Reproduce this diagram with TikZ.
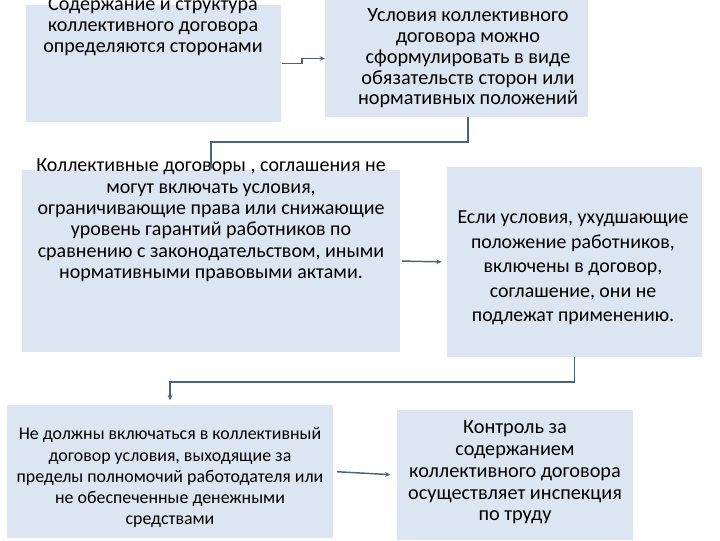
\documentclass[tikz,border=0pt]{standalone}
\usepackage{fontspec}
\setmainfont{Carlito}
\usetikzlibrary{arrows.meta}
\usetikzlibrary{fit}

\definecolor{boxfill}{RGB}{220,230,242}
\definecolor{linkcol}{RGB}{70,100,125}

\begin{document}
\begin{tikzpicture}[x=0.75pt,y=0.75pt,yscale=-1,xscale=1,
  box/.style={fill=boxfill,draw=none,inner sep=0pt,outer sep=0pt},
  txt/.style={align=center,inner sep=0pt},
  link/.style={draw=linkcol,line width=1.1pt,-{Stealth[length=4pt,width=3.5pt]}}]
\useasboundingbox (0,0) rectangle (720,540);
\clip (0,0) rectangle (720,540);

%Shape: Rectangle [id:b1]
\node [box,fit={(26,5) (281,122)}] (b1) {};
%Shape: Rectangle [id:b2]
\node [box,fit={(325,0) (588,117)}] (b2) {};
%Shape: Rectangle [id:b3]
\node [box,fit={(22,170) (400,352)}] (b3) {};
%Shape: Rectangle [id:b4]
\node [box,fit={(447,167) (702,357)}] (b4) {};
%Shape: Rectangle [id:b5]
\node [box,fit={(7,405) (333,538)}] (b5) {};
%Shape: Rectangle [id:b6]
\node [box,fit={(397,410) (633,540)}] (b6) {};

% Text Node
\node [txt,font=\fontsize{15.1}{15.6}\selectfont] (t1) at (153,26.5) {Содержание и структура\\коллективного договора\\определяются сторонами};
% Text Node
\node [txt,font=\fontsize{15.2}{15.6}\selectfont] (t2) at (468,58.5) {Условия коллективного\\договора можно\\сформулировать в виде\\обязательств сторон или\\нормативных положений};
% Text Node
\node [txt,font=\fontsize{15}{16}\selectfont] (t3) at (211,220.5) {Коллективные договоры , соглашения не\\могут включать условия,\\ограничивающие права или снижающие\\уровень гарантий работников по\\сравнению с законодательством, иными\\нормативными правовыми актами.};
% Text Node
\node [txt,font=\fontsize{14.9}{18.4}\selectfont] (t4) at (573,268) {Если условия, ухудшающие\\положение работников,\\включены в договор,\\соглашение, они не\\подлежат применению.};
% Text Node
\node [txt,font=\fontsize{13.4}{15.8}\selectfont] (t5) at (170,477.5) {Не должны включаться в коллективный\\договор условия, выходящие за\\пределы полномочий работодателя или\\не обеспеченные денежными\\средствами};
% Text Node
\node [txt,font=\fontsize{15.2}{16.3}\selectfont] (t6) at (515,472.5) {Контроль за\\содержанием\\коллективного договора\\осуществляет инспекция\\по труду};

%Straight Lines [id:l1]
\draw [link,shorten <=1pt] (b1.east) -- ++(21,0) |- (b2.west);
%Straight Lines [id:l2]
\draw [link] (t2 |- b2.south) -- ++(0,25) -| (b3.north);
%Straight Lines [id:l3]
\draw [link,shorten <=1.5pt,shorten >=4pt] (b3.east) -- (b4.west);
%Straight Lines [id:l4]
\draw [link,shorten >=3.5pt] (b4.south) -- ++(0,25) -| (b5.north);
%Straight Lines [id:l5]
\draw [link,shorten <=3pt,shorten >=5pt] (b5.east) -- (b6.west);

\end{tikzpicture}
\end{document}
